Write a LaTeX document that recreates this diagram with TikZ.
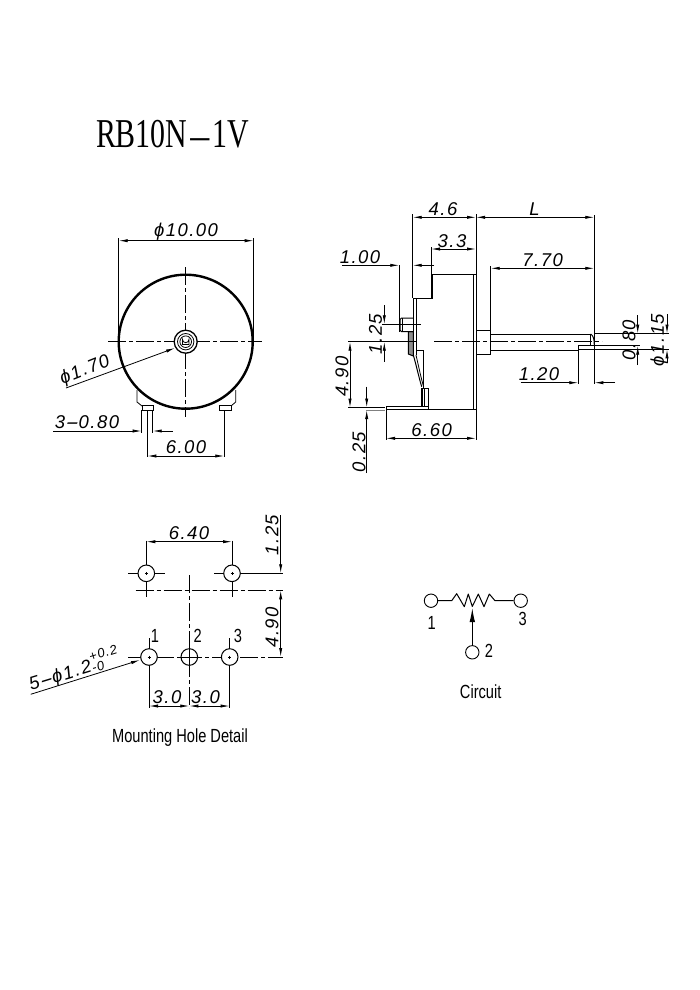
\documentclass[tikz,border=0pt]{standalone}
\usepackage{graphicx}
\usepackage{fontspec}
\usetikzlibrary{arrows.meta}
\setmainfont{Liberation Sans}
\newfontfamily\cadfont{Liberation Sans}[LetterSpace=8]
\newfontfamily\titlefont{Liberation Serif}
\newcommand{\longdash}{\scalebox{2.2}[1]{-}}
\newcommand{\titledash}{\scalebox{2.5}[0.7]{\raisebox{0.6pt}{-}}}
\tikzset{
  thinline/.style={line width=0.8pt,black},
  outline/.style={line width=1pt,black},
  heavy/.style={line width=2.4pt,black},
  centerline/.style={line width=0.8pt,black,dash pattern=on 18pt off 3pt on 4pt off 3pt},
  dimarrow/.style={line width=0.8pt,black,-{Latex[length=9pt,width=3.2pt]}},
  dimboth/.style={line width=0.8pt,black,{Latex[length=9pt,width=3.2pt]}-{Latex[length=9pt,width=3.2pt]}},
  dimlabel/.style={inner sep=0pt,font=\fontsize{18.5}{18.5}\cadfont\itshape},
  sanslabel/.style={inner sep=0pt,font=\fontsize{19}{19}\selectfont,xscale=0.77},
  holecircle/.style={line width=1pt,black,fill=white},
  pad/.style={line width=0.9pt,black,fill=white}
}
\begin{document}
\begin{tikzpicture}[x=1pt,y=-1pt]
\useasboundingbox (0,0) rectangle (700,990);
% title
\node[inner sep=0pt,font=\fontsize{41}{41}\titlefont,xscale=0.73] (title) at (172.5,134) {RB10N\titledash 1V};

% ---------- front view
\coordinate (fc) at (185.7,341.7);
\draw[thinline] (137,390) -- (137,402) -- (142,406);
\draw[thinline] (235.7,390) -- (235.7,402) -- (231,406);
\draw[pad] (142,405.7) rectangle (153,410);
\draw[pad] (219,405.7) rectangle (231,410);
\draw[heavy,fill=white] (fc) circle (67);
\draw[centerline] (108,341.7) -- (262,341.7);
\draw[centerline] (185.7,267) -- (185.7,417);
\draw[line width=1.3pt,fill=white] (fc) circle (11.5);
\draw[thinline] (fc) circle (8.2);
\draw[thinline] (fc) circle (5.8);
\draw[thinline] (182.5,344.5) -- (182.5,339.5) arc (180:0:3.2) -- (188.9,344.5) -- cycle;
% phi 10
\draw[thinline] (118.7,238) -- (118.7,341);
\draw[thinline] (253.7,238) -- (253.7,341);
\draw[dimboth] (118.7,240.7) -- (253.7,240.7);
\node[dimlabel] (d10) at (186,232) {ϕ10.00};
% phi 1.7
\coordinate (l17a) at (66,388);
\coordinate (l17b) at (175,348);
\draw[dimarrow] (l17a) -- (l17b);
\node[dimlabel,rotate=22] (d17) at (85,370.5) {ϕ1.70};
% 3-0.80
\draw[thinline] (141.7,410) -- (141.7,433);
\draw[thinline] (152.7,410) -- (152.7,433);
\draw[dimarrow] (53,431) -- (141.7,431);
\draw[dimarrow] (172.7,431) -- (152.7,431);
\node[dimlabel] (d308) at (87,422.5) {3\longdash 0.80};
% 6.00
\draw[thinline] (147.3,410) -- (147.3,457);
\draw[thinline] (224.3,410) -- (224.3,457);
\draw[dimboth] (147.3,456) -- (224.3,456);
\node[dimlabel] (d600) at (186,447.5) {6.00};

% ---------- side view
\draw[line width=1pt] (431.7,274.3) -- (476,274.3) -- (476,409.3) -- (428,409.3);
\draw[thinline] (473.7,274.3) -- (473.7,409.3);
\draw[line width=1.6pt] (431.7,274.3) -- (431.7,298.5);
\draw[line width=1pt] (431.7,298.5) -- (413.3,298.5) -- (413.3,355);
\draw[thinline] (416,298.5) -- (416,355);
\draw[line width=1pt] (416,350) -- (423.7,350) -- (423.7,388.3);
\draw[thinline] (421.7,388) -- (421.7,406);
\draw[line width=1pt] (413.3,355) .. controls (417,368) and (419,378) .. (421.7,386.7);
\draw[thinline] (416,355) .. controls (419,368) and (421,378) .. (423.7,387);
% terminal
\draw[line width=1pt] (422.3,388.3) rectangle (428.3,406);
\draw[thinline] (424.3,388.3) -- (424.3,406);
\draw[line width=1pt] (386.7,406) -- (428.3,406) -- (428.3,409.3) -- (386.7,409.3) -- cycle;
% contact plate
\draw[line width=1pt,fill=black!45] (408.3,331.7) -- (408.3,354) -- (413.3,356) -- (413.3,331.7) -- cycle;
\draw[line width=1pt,rounded corners=1.5pt] (413.3,318) -- (400,318) -- (400,331.7) -- (413.3,331.7);
\draw[thinline] (402.3,318) -- (402.3,331.7);
% boss and shaft
\draw[line width=1pt] (476,330) rectangle (490.7,354);
\draw[line width=1pt] (490.7,334) -- (590.7,334);
\draw[line width=1pt] (490.7,350) -- (578.3,350) -- (578.3,345.5) -- (594.3,345.5);
\draw[thinline] (590.7,334) -- (590.7,345.5);
\draw[line width=1pt] (590.7,334) .. controls (593.5,336) and (594.3,339) .. (594.3,345.5);
% side centre line
\draw[thinline] (348,341.7) -- (416,341.7);
\draw[centerline] (434,341.7) -- (602,341.7);
% 4.6 and L
\draw[thinline] (412.7,214) -- (412.7,298);
\draw[thinline] (476,214) -- (476,274);
\draw[thinline] (594.3,215) -- (594.3,384);
\draw[dimboth] (412.7,217.3) -- (476,217.3);
\draw[dimboth] (476,217.3) -- (594.3,217.3);
\node[dimlabel] (d46) at (443,209) {4.6};
\node[dimlabel] (dL) at (534.5,209) {L};
% 3.3
\draw[thinline] (431,247) -- (431,274);
\draw[dimboth] (431,249) -- (476,249);
\node[dimlabel] (d33) at (452,241) {3.3};
% 1.00
\draw[thinline] (399.3,265) -- (399.3,332);
\draw[dimarrow] (342,265.3) -- (399.3,265.3);
\draw[dimarrow] (434,265.3) -- (412.7,265.3);
\node[dimlabel] (d100) at (360,257) {1.00};
% 7.70
\draw[thinline] (490.7,266) -- (490.7,330);
\draw[dimboth] (490.7,268.3) -- (594.3,268.3);
\node[dimlabel] (d770) at (542.7,260) {7.70};
% 1.20
\draw[thinline] (578.3,346) -- (578.3,384);
\draw[dimarrow] (520.7,382.7) -- (578.3,382.7);
\draw[dimarrow] (615,382.7) -- (594.3,382.7);
\node[dimlabel] (d120) at (539,374) {1.20};
% 0.80
\draw[thinline] (594,333.7) -- (669,333.7);
\draw[thinline] (578.3,345.7) -- (640,345.7);
\draw[thinline] (578.3,349.3) -- (669,349.3);
\draw[dimarrow] (637.7,315) -- (637.7,333.7);
\draw[dimarrow] (637.7,365) -- (637.7,345.7);
\node[dimlabel,rotate=90] (d080) at (629,340) {0.80};
% phi 1.15
\draw[dimarrow] (667,314) -- (667,333.7);
\draw[dimarrow] (667,363) -- (667,349.3);
\node[dimlabel,rotate=90] (d115) at (659,340) {ϕ1.15};
% 1.25 side
\draw[thinline] (382,324.3) -- (420.7,324.3);
\draw[dimarrow] (384.3,305) -- (384.3,324.3);
\draw[dimarrow] (384.3,361.7) -- (384.3,341.7);
\node[dimlabel,rotate=90] (d125s) at (375.5,334) {1.25};
% 4.90 side
\draw[thinline] (348,407.7) -- (385,407.7);
\draw[dimboth] (350,341.7) -- (350,407.7);
\node[dimlabel,rotate=90] (d490s) at (342,376.7) {4.90};
% 0.25
\draw[line width=0.8pt,black!50] (366,410) -- (385,410);
\draw[dimarrow] (366.7,386.7) -- (366.7,407.5);
\draw[dimarrow] (366.7,473) -- (366.7,410);
\node[dimlabel,rotate=90] (d025) at (359,452) {0.25};
% 6.60
\draw[thinline] (386,410) -- (386,440);
\draw[thinline] (476,409) -- (476,440);
\draw[dimboth] (386,438.3) -- (476,438.3);
\node[dimlabel] (d660) at (431.7,430) {6.60};

% ---------- mounting holes
\draw[centerline] (135.7,590.3) -- (283,590.3);
\draw[centerline] (189.3,575) -- (189.3,708);
\draw[centerline] (128,657) -- (283,657);
\draw[thinline] (128.3,573.3) -- (165,573.3);
\draw[thinline] (214,573.3) -- (283,573.3);
\draw[thinline] (146.3,540.7) -- (146.3,597.3);
\draw[thinline] (232,540.7) -- (232,597.3);
\draw[thinline] (149,638) -- (149,708);
\draw[thinline] (229.7,638) -- (229.7,708);
\foreach \nm/\px/\py in {ha/146.3/573.3,hb/232/573.3,hc/149/657,hd/189.3/657,he/229.7/657}{
  \draw[holecircle] (\px,\py) circle (8.3);
  \draw[thinline] (\px-1.5,\py) -- (\px+1.5,\py) (\px,\py-1.5) -- (\px,\py+1.5);
  \coordinate (\nm) at (\px,\py);
}
\draw[thinline] (189.3,648.7) -- (189.3,665.3) (181,657) -- (197.6,657);
\draw[dimboth] (146.3,541.7) -- (232,541.7);
\node[dimlabel] (d640) at (189,533) {6.40};
\draw[dimarrow] (280.7,515) -- (280.7,573.3);
\draw[dimboth] (280.7,590.3) -- (280.7,657);
\node[dimlabel,rotate=90] (d125h) at (272,535) {1.25};
\node[dimlabel,rotate=90] (d490h) at (272,627.5) {4.90};
\draw[dimboth] (149,706) -- (189.3,706);
\draw[dimboth] (189.3,706) -- (229.7,706);
\node[dimlabel] (d30a) at (167,697.5) {3.0};
\node[dimlabel] (d30b) at (205.5,697.5) {3.0};
\coordinate (l5a) at (30.7,694.3);
\coordinate (l5b) at (140,660);
\draw[dimarrow] (l5a) -- (l5b);
\node[dimlabel,rotate=17,anchor=base west] (d5) at (31,690.5) {5\longdash ϕ1.2};
\node[dimlabel,rotate=17,font=\fontsize{13}{13}\cadfont\itshape] (d5u) at (103,653) {+0.2};
\node[dimlabel,rotate=17,font=\fontsize{13}{13}\cadfont\itshape] (d5l) at (98,666.5) {-0};
\node[sanslabel] (n1) at (155,636) {1};
\node[sanslabel] (n2) at (197.7,636) {2};
\node[sanslabel] (n3) at (238,636) {3};
\node[sanslabel] (mhd) at (180,738) {Mounting Hole Detail};

% ---------- circuit
\node[circle,draw,line width=0.9pt,minimum size=13.4pt,inner sep=0pt] (c1) at (431,600.7) {};
\node[circle,draw,line width=0.9pt,minimum size=13.4pt,inner sep=0pt] (c3) at (520.7,600.7) {};
\node[circle,draw,line width=0.9pt,minimum size=13.4pt,inner sep=0pt] (c2) at (472.3,652.3) {};
\draw[line width=1pt,line join=round] (c1.east) -- (451.7,600.7) -- (456.7,593.7) -- (464.3,606.7) -- (468.3,594) -- (472.3,606.5) -- (478.3,594) -- (484,606.7) -- (489.3,594) -- (495,600.7) -- (c3.west);
\draw[line width=1pt,-{Latex[length=14pt,width=5.5pt]}] (c2.north) -- (472.3,608);
\node[sanslabel] (t1) at (431.7,622.7) {1};
\node[sanslabel] (t3) at (522.7,619.3) {3};
\node[sanslabel] (t2) at (489,651) {2};
\node[sanslabel] (circ) at (480.7,691.7) {Circuit};
\end{tikzpicture}
\end{document}
